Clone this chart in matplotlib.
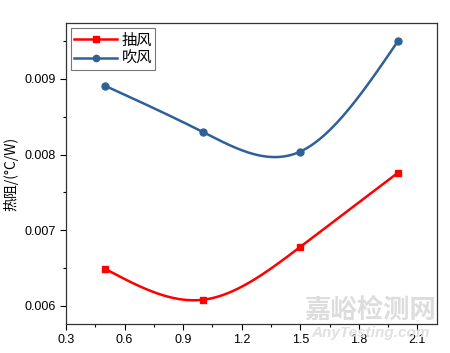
import matplotlib.pyplot as plt
import numpy as np

plt.rcParams['font.family'] = ['Liberation Sans', 'Noto Sans CJK SC', 'DejaVu Sans']

# 风速档位 / 热阻数据
x_vals = [0.5, 1.0, 1.5, 2.0]
suck = [0.00649, 0.00608, 0.00678, 0.00776]   # 抽风
blow = [0.00891, 0.00830, 0.00804, 0.00950]   # 吹风
xticks = [0.3, 0.6, 0.9, 1.2, 1.5, 1.8, 2.1]
yticks = [0.006, 0.007, 0.008, 0.009]


def natural_spline(x, y, n=200):
    # 自然三次样条，平滑连线
    x = np.asarray(x, float)
    y = np.asarray(y, float)
    k = len(x)
    h = np.diff(x)
    A = np.zeros((k, k))
    b = np.zeros(k)
    A[0, 0] = A[-1, -1] = 1
    for i in range(1, k - 1):
        A[i, i - 1] = h[i - 1]
        A[i, i] = 2 * (h[i - 1] + h[i])
        A[i, i + 1] = h[i]
        b[i] = 6 * ((y[i + 1] - y[i]) / h[i] - (y[i] - y[i - 1]) / h[i - 1])
    m = np.linalg.solve(A, b)
    xs = np.linspace(x[0], x[-1], n)
    idx = np.clip(np.searchsorted(x, xs) - 1, 0, k - 2)
    t = xs - x[idx]
    hi = h[idx]
    ys = (m[idx] * (x[idx + 1] - xs) ** 3 / (6 * hi) + m[idx + 1] * t ** 3 / (6 * hi)
          + (y[idx] / hi - m[idx] * hi / 6) * (x[idx + 1] - xs)
          + (y[idx + 1] / hi - m[idx + 1] * hi / 6) * t)
    return xs, ys


fig = plt.figure(figsize=(4.5, 3.53), dpi=100)
ax = fig.add_axes([66 / 450, 1 - 324 / 353, (437 - 66) / 450, (324 - 23) / 353])

red = '#ff0000'
blue = '#2f6097'
for ys, c, mk, lab in [(suck, red, 's', '抽风'), (blow, blue, 'o', '吹风')]:
    sx, sy = natural_spline(x_vals, ys)
    ax.plot(sx, sy, color=c, lw=1.8)
    ax.plot(x_vals, ys, mk, color=c, ms=4.5 if mk == 's' else 5)
    ax.plot([], [], color=c, lw=1.8, marker=mk, ms=4.5, label=lab)

ax.set_xlim(0.3, 2.2)
ax.set_ylim(0.00576, 0.00974)
ax.set_xticks(xticks)
ax.set_yticks(yticks)
ax.set_xticks(np.arange(0.45, 2.2, 0.3), minor=True)
ax.set_yticks([0.0065, 0.0075, 0.0085, 0.0095], minor=True)
ax.set_xticklabels([f'{v:.1f}' for v in xticks])
ax.set_yticklabels([f'{v:.3f}' for v in yticks])
ax.tick_params(direction='out', labelsize=9, length=4, width=0.8)
ax.tick_params(which='minor', length=2.5, width=0.8)
for s in ax.spines.values():
    s.set_linewidth(0.9)
    s.set_color('#333333')

ax.set_ylabel('热阻/(°C/W)', fontsize=10, labelpad=4,
              family=['Noto Sans CJK SC', 'DejaVu Sans'])

leg = ax.legend(loc='upper left', frameon=True, fancybox=False,
                borderpad=0.2, handlelength=2.8, labelspacing=0.1,
                handletextpad=0.3, borderaxespad=0.35,
                prop={'family': ['Noto Sans CJK SC', 'DejaVu Sans'], 'size': 11})
leg.get_frame().set_edgecolor('#555555')
leg.get_frame().set_linewidth(0.8)

# 水印
fig.text(0.97, 0.1, '嘉峪检测网', fontsize=19, color='#dddddd', ha='right',
         family=['Noto Sans CJK SC'], weight='bold')
fig.text(0.955, 0.045, 'AnyTesting.com', fontsize=11, color='#e0e0e0', ha='right',
         style='italic', weight='bold')

fig.savefig('out.png', dpi=100)
